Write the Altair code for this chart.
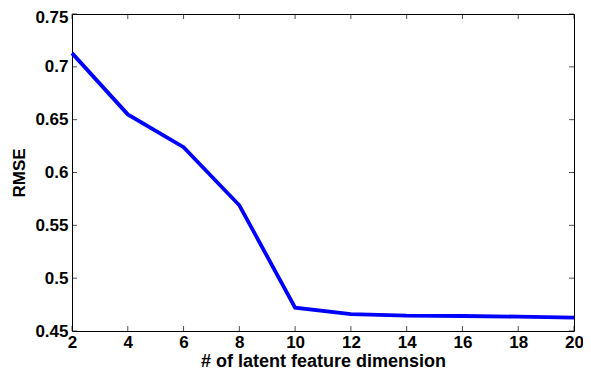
import altair as alt
import pandas as pd

dims = [2, 4, 6, 8, 10, 12, 14, 16, 18, 20]
rmse = [0.713, 0.655, 0.624, 0.569, 0.472, 0.466, 0.4645, 0.4642, 0.4636, 0.4627]
x_ticks = [2, 4, 6, 8, 10, 12, 14, 16, 18, 20]
y_ticks = [0.45, 0.5, 0.55, 0.6, 0.65, 0.7, 0.75]

W, H = 502, 317
FONT = "Liberation Sans"

df = pd.DataFrame({"dim": dims, "rmse": rmse})
xt = pd.DataFrame({"dim": x_ticks})
yt = pd.DataFrame({"rmse": y_ticks})

xscale = alt.Scale(domain=[2, 20], nice=False, zero=False)
yscale = alt.Scale(domain=[0.45, 0.75], nice=False, zero=False)

xaxis = alt.Axis(values=x_ticks, title="# of latent feature dimension",
                 labelFlush=False, labelOverlap=False, labelPadding=3,
                 titlePadding=2, titleFontSize=18)
yaxis = alt.Axis(values=y_ticks, title="RMSE", format=".2~f",
                 labelOverlap=False, labelFlush=False, labelPadding=4,
                 labelOffset=alt.condition("datum.value > 0.74", alt.value(3), alt.value(0)),
                 titlePadding=6, titleFontSize=17)

X = alt.X("dim:Q", scale=xscale, axis=xaxis)
Y = alt.Y("rmse:Q", scale=yscale, axis=yaxis)

line = alt.Chart(df).mark_line(color="#0000FF", strokeWidth=3.8).encode(x=X, y=Y)

tick_len = 5
bottom = alt.Chart(xt).mark_tick(orient="vertical", size=tick_len, thickness=1, color="black").encode(
    x=X, y=alt.value(H - tick_len / 2))
top = alt.Chart(xt).mark_tick(orient="vertical", size=tick_len, thickness=1, color="black").encode(
    x=X, y=alt.value(tick_len / 2))
left = alt.Chart(yt).mark_tick(orient="horizontal", size=tick_len, thickness=1, color="black").encode(
    y=Y, x=alt.value(tick_len / 2))
right = alt.Chart(yt).mark_tick(orient="horizontal", size=tick_len, thickness=1, color="black").encode(
    y=Y, x=alt.value(W - tick_len / 2))

chart = alt.layer(line, bottom, top, left, right).properties(
    width=W, height=H,
    autosize=alt.AutoSizeParams(type="none"),
    padding={"left": 64, "top": 6, "right": 9, "bottom": 39},
).configure_view(
    stroke="black", strokeWidth=1
).configure_axis(
    domain=False, ticks=False, grid=False,
    labelFont=FONT, labelFontWeight="bold", labelFontSize=17, labelColor="black",
    titleFont=FONT, titleFontWeight="bold", titleColor="black",
)

chart.save("out.html", embed_options={"renderer": "svg", "actions": False})
